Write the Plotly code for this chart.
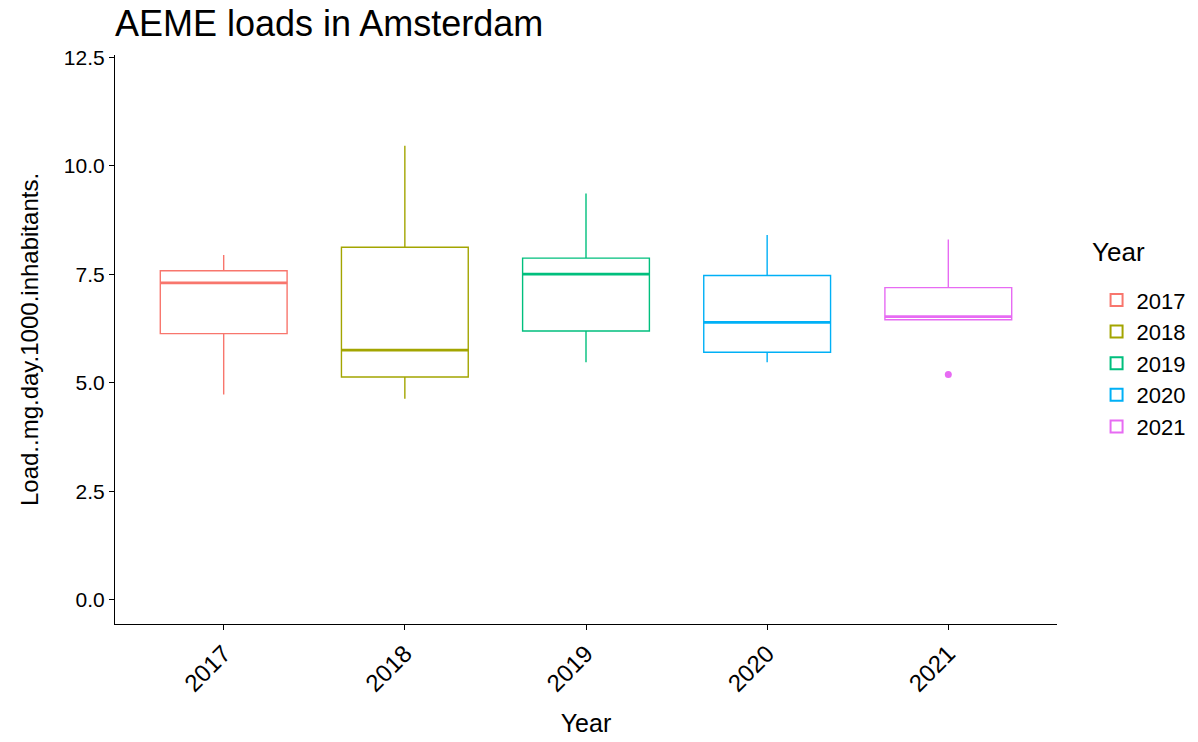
import plotly.graph_objects as go

years = ["2017", "2018", "2019", "2020", "2021"]
colors = ["#F8766D", "#A3A500", "#00BF7D", "#00B0F6", "#E76BF3"]
lower = [4.73, 4.63, 5.47, 5.47, 6.45]
q1 = [6.13, 5.13, 6.19, 5.70, 6.45]
median = [7.30, 5.75, 7.50, 6.39, 6.52]
q3 = [7.58, 8.12, 7.87, 7.47, 7.19]
upper = [7.94, 10.46, 9.36, 8.40, 8.30]
outlier_year = ["2021"]
outlier_value = [5.19]

box_width = 0.7
pos = {y: i + 1 for i, y in enumerate(years)}

fig = go.Figure()
for i, yr in enumerate(years):
    x0 = pos[yr]
    fig.add_trace(go.Box(
        x=[x0], q1=[q1[i]], median=[median[i]], q3=[q3[i]],
        lowerfence=[lower[i]], upperfence=[upper[i]],
        name=yr, width=box_width, whiskerwidth=0,
        fillcolor="rgba(255,255,255,0)",
        line=dict(color=colors[i], width=1.4),
        boxpoints=False, hoverinfo="skip",
    ))
    fig.add_trace(go.Scatter(
        x=[x0 - box_width / 2, x0 + box_width / 2], y=[median[i], median[i]],
        mode="lines", line=dict(color=colors[i], width=2.8),
        showlegend=False, hoverinfo="skip",
    ))

for yr, v in zip(outlier_year, outlier_value):
    fig.add_trace(go.Scatter(
        x=[pos[yr]], y=[v], mode="markers",
        marker=dict(color=colors[years.index(yr)], size=7),
        showlegend=False, hoverinfo="skip",
    ))

font_family = "Liberation Sans, Arial, sans-serif"
fig.update_layout(
    width=1198, height=742,
    paper_bgcolor="white", plot_bgcolor="white",
    margin=dict(l=107, r=149, t=47, b=126),
    font=dict(family=font_family, color="black"),
    showlegend=True,
    legend=dict(font=dict(size=22), x=1.042, xanchor="left", y=0.606, yanchor="top",
                itemsizing="constant"),
    annotations=[
        dict(text="AEME loads in Amsterdam", xref="paper", yref="paper", x=0, y=1.0545,
             xanchor="left", yanchor="middle", showarrow=False, xshift=-2,
             font=dict(size=36, color="black")),
        dict(text="Year", xref="paper", yref="paper", x=1.035, y=0.654,
             xanchor="left", yanchor="middle", showarrow=False,
             font=dict(size=26, color="black")),
    ],
    xaxis=dict(
        range=[0.4, 5.6], tickmode="array", tickvals=[pos[y] for y in years], ticktext=years,
        tickangle=-45, tickfont=dict(size=24, color="black"),
        showline=True, linecolor="black", linewidth=1.2,
        ticks="outside", ticklen=5, tickcolor="black", tickwidth=1,
        showgrid=False, zeroline=False,
        title=dict(text="Year", font=dict(size=25), standoff=18),
    ),
    yaxis=dict(
        range=[-0.56, 12.55], tickvals=[0, 2.5, 5, 7.5, 10, 12.5], tickformat=".1f",
        tickfont=dict(size=21, color="black"),
        showline=True, linecolor="black", linewidth=1.2,
        ticks="outside", ticklen=5, tickcolor="black", tickwidth=1,
        showgrid=False, zeroline=False,
        title=dict(text="Load..mg.day.1000.inhabitants.", font=dict(size=24), standoff=18),
    ),
)

fig.write_html("out.html")
